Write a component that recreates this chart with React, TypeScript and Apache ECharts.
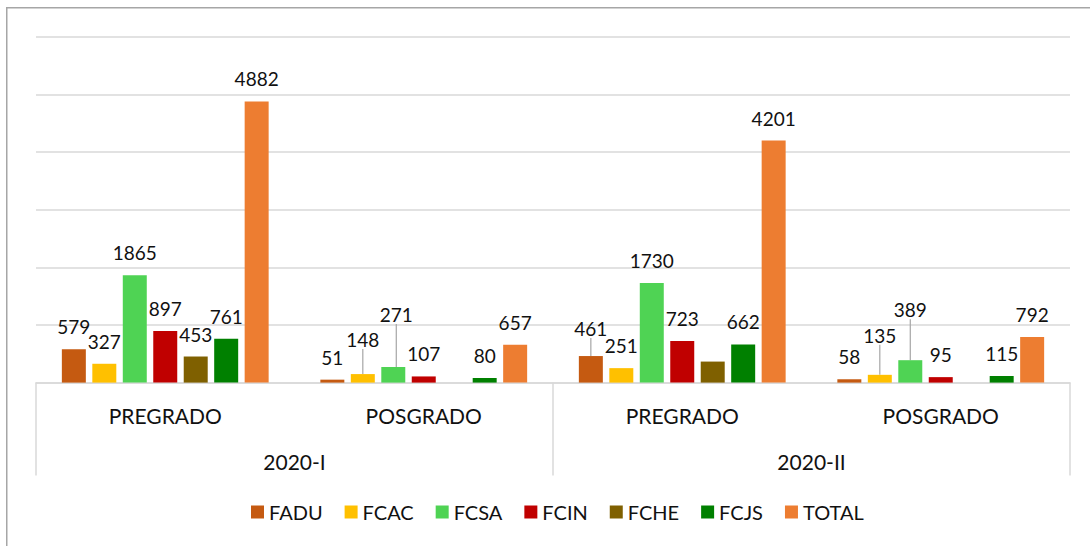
import React, { useEffect, useRef } from "react";
import * as echarts from "echarts";

const levels = ["PREGRADO", "POSGRADO", "PREGRADO", "POSGRADO"];
const periods = ["2020-I", "2020-II"];
const seriesNames = ["FADU", "FCAC", "FCSA", "FCIN", "FCHE", "FCJS", "TOTAL"];
const FADU = [579, 51, 461, 58];
const FCAC = [327, 148, 251, 135];
const FCSA = [1865, 271, 1730, 389];
const FCIN = [897, 107, 723, 95];
const FCHE = [453, null, 365, null];
const FCJS = [761, 80, 662, 115];
const TOTAL = [4882, 657, 4201, 792];
// values that have no data label in the original
const FCHE_LABELED = [true, false, false, false];

const colors = ["#c55a11", "#ffc000", "#4fd354", "#c00000", "#7f6000", "#008000", "#ed7d31"];

// label displacement (layout only): [seriesIndex, dataIndex, dx, dy]
const movedLabels: [number, number, number, number][] = [
  [1, 1, 0, -12],
  [2, 1, 3, -30],
  [0, 2, 0, -5],
  [1, 3, 0, -17],
  [2, 3, 0, -28],
];

const FONT = "Lato";

export default function App() {
  const ref = useRef<HTMLDivElement>(null);
  useEffect(() => {
    if (!ref.current) return;
    const chart = echarts.init(ref.current, null, { renderer: "svg" });
    const allData = [FADU, FCAC, FCSA, FCIN, FCHE, FCJS, TOTAL];
    const series = seriesNames.map((name, si) => ({
      name,
      type: "bar",
      xAxisIndex: 0,
      barGap: "27%",
      barCategoryGap: "20%",
      itemStyle: { color: colors[si] },
      label: {
        show: true,
        position: "top",
        distance: 13,
        color: "#111",
        fontFamily: FONT,
        fontSize: 19,
      },
      labelLayout: (p: any) => {
        const m = movedLabels.find((x) => x[0] === p.seriesIndex && x[1] === p.dataIndex);
        return m ? { dx: m[2], dy: m[3] } : {};
      },
      data: allData[si].map((v, di) => {
        const moved = movedLabels.some((x) => x[0] === si && x[1] === di);
        const item: any = { value: v == null ? "-" : v };
        if (si === 4 && !FCHE_LABELED[di]) item.label = { show: false };
        if (moved) item.labelLine = { show: true, lineStyle: { color: "#a6a6a6", width: 1.2 } };
        return item;
      }),
    }));
    chart.setOption({
      animation: false,
      color: colors,
      textStyle: { fontFamily: FONT },
      grid: { left: 36, right: 20, top: 37, bottom: 163.4, containLabel: false },
      legend: {
        bottom: 24,
        left: 251,
        padding: 0,
        icon: "rect",
        itemWidth: 13,
        itemHeight: 13,
        itemGap: 22,
        textStyle: { fontFamily: FONT, fontSize: 20, color: "#111" },
        data: seriesNames,
      },
      xAxis: [
        {
          type: "category",
          data: levels,
          position: "bottom",
          axisLine: { show: true, lineStyle: { color: "#d9d9d9", width: 1.5 } },
          axisTick: { show: false },
          axisLabel: { margin: 22, fontFamily: FONT, fontSize: 21, color: "#111" },
        },
        {
          type: "category",
          data: periods,
          position: "bottom",
          axisLine: { show: false },
          axisTick: { show: true, length: 93, lineStyle: { color: "#d9d9d9", width: 1.5 } },
          axisLabel: { margin: 68, fontFamily: FONT, fontSize: 21, color: "#111" },
        },
      ],
      yAxis: {
        type: "value",
        min: 0,
        max: 6000,
        interval: 1000,
        axisLabel: { show: false },
        axisLine: { show: false },
        axisTick: { show: false },
        splitLine: { lineStyle: { color: "#d9d9d9", width: 1.5 } },
      },
      graphic: [
        {
          type: "polyline",
          shape: { points: [[6.75, 546], [6.75, 7.75], [1090, 7.75]] },
          style: { stroke: "#a6a6a6", lineWidth: 1.5, fill: "none" },
          silent: true,
        },
      ],
      series,
    });
    return () => chart.dispose();
  }, []);
  return (
    <div
      ref={ref}
      style={{ position: "absolute", left: 0, top: 0, width: 1090, height: 546, background: "#fff" }}
    />
  );
}
